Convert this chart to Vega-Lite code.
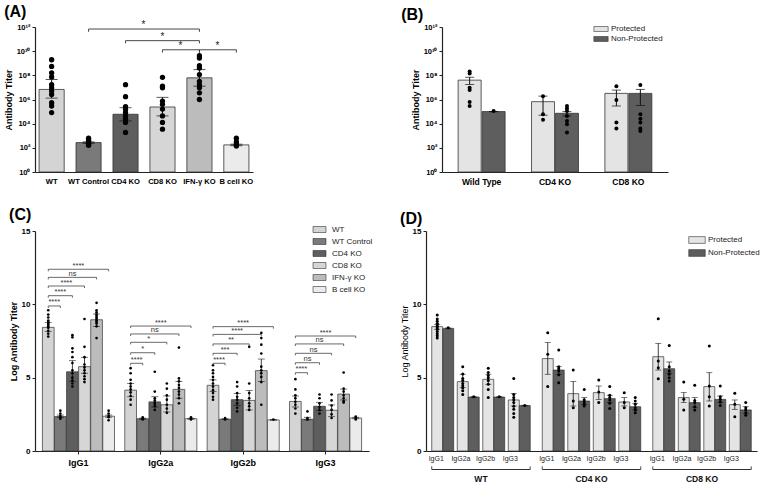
{
"$schema": "https://vega.github.io/schema/vega-lite/v6.json",
"background": "white",
"padding": {"left": 4, "top": 4, "right": 0, "bottom": 0},
"config": {
 "font": "Liberation Sans",
 "view": {"stroke": null},
 "axis": {"grid": false, "labelFont": "Liberation Sans", "titleFont": "Liberation Sans", "labelFontWeight": "bold", "titleFontWeight": "bold", "labelColor": "#000", "titleColor": "#000", "domainColor": "#222", "tickColor": "#222", "domainWidth": 1.2, "tickWidth": 1, "tickSize": 3, "labelFontSize": 8, "titleFontSize": 9, "labelPadding": 2, "titlePadding": 3},
 "legend": {"labelFont": "Liberation Sans", "labelColor": "#222", "labelFontSize": 8},
 "title": {"font": "Liberation Sans", "fontSize": 16, "fontWeight": "bold", "anchor": "start", "color": "#000"},
 "text": {"font": "Liberation Sans"}
},
"datasets": {
 "a": [
  {"genotype": "WT", "titer": 6.8e6, "lo": 1.3e6, "hi": 4.5e7, "points": [1.95e9, 5.5e8, 1.6e8, 7.4e7, 1.7e7, 9.3e6, 5.0e6, 2.6e6, 5.5e5, 2.9e5, 8.3e4]},
  {"genotype": "WT Control", "titer": 270, "lo": 235, "hi": 310, "points": [630, 450, 355, 280, 225, 180, 160]},
  {"genotype": "CD4 KO", "titer": 6.0e4, "lo": 1.7e4, "hi": 2.1e5, "points": [1.7e7, 1.7e6, 2.6e5, 1.55e5, 8.3e4, 4.4e4, 2.3e4, 1.26e4, 1.9e3]},
  {"genotype": "CD8 KO", "titer": 2.4e5, "lo": 4.4e4, "hi": 1.5e6, "points": [6.9e7, 1.26e7, 9.3e6, 7.4e5, 4.0e5, 1.6e5, 4.4e4, 1.26e4, 3.5e3]},
  {"genotype": "IFN-γ KO", "titer": 6.2e7, "lo": 1.26e7, "hi": 3.0e8, "points": [4.2e9, 2.7e9, 6.3e8, 4.0e8, 1.15e8, 3.2e7, 1.7e7, 9.3e6, 3.6e6, 1.0e6]},
  {"genotype": "B cell KO", "titer": 175, "lo": 150, "hi": 200, "points": [630, 316, 200, 140]}
 ],
 "a_brk": [
  {"from": "WT Control", "to": "IFN-γ KO", "y": 6.8e11, "yEnd": 4.0e11, "mid": "CD4 KO", "half": true, "label": "*"},
  {"from": "CD4 KO", "to": "IFN-γ KO", "y": 7.4e10, "yEnd": 4.4e10, "mid": "CD8 KO", "half": false, "label": "*"},
  {"from": "CD8 KO", "to": "IFN-γ KO", "y": 1.3e10, "yEnd": 7.6e9, "mid": "CD8 KO", "half": true, "label": "*"},
  {"from": "IFN-γ KO", "to": "B cell KO", "y": 1.3e10, "yEnd": 7.6e9, "mid": "IFN-γ KO", "half": true, "label": "*"}
 ],
 "b": [
  {"genotype": "Wild Type", "status": "Protected", "titer": 4.0e7, "lo": 1.74e7, "hi": 6.9e7, "points": [2.1e8, 1.4e8, 9.3e6, 6.0e6, 6.2e5, 2.9e5]},
  {"genotype": "Wild Type", "status": "Non-Protected", "titer": 1.0e5, "lo": 1.0e5, "hi": 1.0e5, "points": [1.12e5]},
  {"genotype": "CD4 KO", "status": "Protected", "titer": 6.6e5, "lo": 5.0e4, "hi": 1.9e6, "points": [1.9e6, 6.0e4, 2.1e4]},
  {"genotype": "CD4 KO", "status": "Non-Protected", "titer": 7.2e4, "lo": 4.4e4, "hi": 1.0e5, "points": [2.9e5, 1.8e5, 1.1e5, 4.4e4, 1.7e4, 9.1e3, 1.9e3]},
  {"genotype": "CD8 KO", "status": "Protected", "titer": 3.2e6, "lo": 2.9e5, "hi": 6.0e6, "points": [1.26e7, 9.1e5, 1.26e4, 4.0e3]},
  {"genotype": "CD8 KO", "status": "Non-Protected", "titer": 3.2e6, "lo": 3.2e5, "hi": 6.8e6, "points": [1.55e7, 6.0e4, 2.5e4, 1.26e4, 4.0e3, 2.5e3]}
 ],
 "c": [
  {"isotype": "IgG1", "genotype": "WT", "value": 8.43, "lo": 8.14, "hi": 8.77, "points": [9.6, 9.3, 9.1, 8.9, 8.8, 8.7, 8.6, 8.5, 8.4, 8.2, 8.0, 7.8]},
  {"isotype": "IgG1", "genotype": "WT Control", "value": 2.35, "lo": 2.28, "hi": 2.45, "points": [2.75, 2.55, 2.4, 2.3, 2.2]},
  {"isotype": "IgG1", "genotype": "CD4 KO", "value": 5.4, "lo": 4.73, "hi": 6.16, "points": [7.9, 7.75, 7.0, 6.75, 6.4, 6.0, 5.5, 5.3, 5.0, 4.8, 4.6, 4.4]},
  {"isotype": "IgG1", "genotype": "CD8 KO", "value": 5.75, "lo": 5.3, "hi": 6.39, "points": [9.0, 7.1, 6.4, 5.9, 5.7, 5.5, 5.3, 5.1, 4.9, 4.7]},
  {"isotype": "IgG1", "genotype": "IFN-γ KO", "value": 8.95, "lo": 8.48, "hi": 9.34, "points": [10.1, 9.6, 9.45, 9.3, 9.2, 9.1, 9.0, 8.9, 8.8, 8.7, 8.5, 7.7]},
  {"isotype": "IgG1", "genotype": "B cell KO", "value": 2.37, "lo": 2.3, "hi": 2.45, "points": [2.75, 2.55, 2.4, 2.3, 2.1]},
  {"isotype": "IgG2a", "genotype": "WT", "value": 4.15, "lo": 3.7, "hi": 4.6, "points": [5.65, 5.3, 4.85, 4.6, 4.4, 4.2, 4.0, 3.75, 3.5, 3.15]},
  {"isotype": "IgG2a", "genotype": "WT Control", "value": 2.2, "lo": 2.17, "hi": 2.24, "points": [2.3, 2.2, 2.15]},
  {"isotype": "IgG2a", "genotype": "CD4 KO", "value": 3.35, "lo": 3.0, "hi": 3.7, "points": [5.4, 4.05, 3.6, 3.45, 3.3, 3.2, 3.05, 2.8]},
  {"isotype": "IgG2a", "genotype": "CD8 KO", "value": 3.15, "lo": 2.66, "hi": 3.75, "points": [4.6, 4.25, 3.8, 3.5, 3.15, 2.9, 2.6]},
  {"isotype": "IgG2a", "genotype": "IFN-γ KO", "value": 4.2, "lo": 3.6, "hi": 4.75, "points": [7.05, 4.95, 4.75, 4.5, 4.3, 4.05, 3.85, 3.6, 3.25]},
  {"isotype": "IgG2a", "genotype": "B cell KO", "value": 2.2, "lo": 2.17, "hi": 2.23, "points": [2.3, 2.2, 2.15]},
  {"isotype": "IgG2b", "genotype": "WT", "value": 4.48, "lo": 4.05, "hi": 4.85, "points": [5.85, 5.5, 5.3, 5.05, 4.85, 4.6, 4.4, 4.15, 3.95, 3.7, 3.5]},
  {"isotype": "IgG2b", "genotype": "WT Control", "value": 2.17, "lo": 2.15, "hi": 2.2, "points": [2.25, 2.15]},
  {"isotype": "IgG2b", "genotype": "CD4 KO", "value": 3.5, "lo": 3.1, "hi": 3.92, "points": [4.7, 4.4, 3.95, 3.7, 3.5, 3.25, 2.95, 2.7]},
  {"isotype": "IgG2b", "genotype": "CD8 KO", "value": 3.45, "lo": 2.8, "hi": 4.12, "points": [7.1, 4.6, 3.95, 3.6, 3.25, 3.05, 2.8]},
  {"isotype": "IgG2b", "genotype": "IFN-γ KO", "value": 5.48, "lo": 4.73, "hi": 6.27, "points": [8.05, 7.7, 7.25, 6.65, 5.75, 5.5, 5.3, 5.05, 4.7, 3.15]},
  {"isotype": "IgG2b", "genotype": "B cell KO", "value": 2.12, "lo": 2.1, "hi": 2.14, "points": [2.15]},
  {"isotype": "IgG3", "genotype": "WT", "value": 3.38, "lo": 3.0, "hi": 3.75, "points": [4.9, 4.2, 3.8, 3.6, 3.35, 3.15, 2.9, 2.55]},
  {"isotype": "IgG3", "genotype": "WT Control", "value": 2.17, "lo": 2.12, "hi": 2.3, "points": [2.7, 2.25, 2.15]},
  {"isotype": "IgG3", "genotype": "CD4 KO", "value": 3.05, "lo": 2.75, "hi": 3.32, "points": [3.85, 3.6, 3.25, 3.0, 2.8, 2.55]},
  {"isotype": "IgG3", "genotype": "CD8 KO", "value": 2.78, "lo": 2.34, "hi": 3.14, "points": [3.85, 3.45, 3.1, 2.8, 2.5, 2.25]},
  {"isotype": "IgG3", "genotype": "IFN-γ KO", "value": 3.88, "lo": 3.48, "hi": 4.22, "points": [5.35, 4.25, 4.05, 3.8, 3.6, 3.4, 3.3]},
  {"isotype": "IgG3", "genotype": "B cell KO", "value": 2.25, "lo": 2.2, "hi": 2.3, "points": [2.35, 2.25, 2.15]}
 ],
 "c_brk": [
  {"isotype": "IgG1", "from": "WT", "to": "WT Control", "y": 9.89, "yEnd": 9.75, "label": "****", "mid": "WT", "half": true},
  {"isotype": "IgG1", "from": "WT", "to": "CD4 KO", "y": 10.59, "yEnd": 10.45, "label": "****", "mid": "WT Control", "half": false},
  {"isotype": "IgG1", "from": "WT", "to": "CD8 KO", "y": 11.25, "yEnd": 11.11, "label": "****", "mid": "WT Control", "half": true},
  {"isotype": "IgG1", "from": "WT", "to": "IFN-γ KO", "y": 11.84, "yEnd": 11.7, "label": "ns", "mid": "CD4 KO", "half": false},
  {"isotype": "IgG1", "from": "WT", "to": "B cell KO", "y": 12.39, "yEnd": 12.25, "label": "****", "mid": "CD4 KO", "half": true},
  {"isotype": "IgG2a", "from": "WT", "to": "WT Control", "y": 5.98, "yEnd": 5.84, "label": "****", "mid": "WT", "half": true},
  {"isotype": "IgG2a", "from": "WT", "to": "CD4 KO", "y": 6.7, "yEnd": 6.56, "label": "*", "mid": "WT Control", "half": false},
  {"isotype": "IgG2a", "from": "WT", "to": "CD8 KO", "y": 7.41, "yEnd": 7.27, "label": "*", "mid": "WT Control", "half": true},
  {"isotype": "IgG2a", "from": "WT", "to": "IFN-γ KO", "y": 7.98, "yEnd": 7.84, "label": "ns", "mid": "CD4 KO", "half": false},
  {"isotype": "IgG2a", "from": "WT", "to": "B cell KO", "y": 8.52, "yEnd": 8.38, "label": "****", "mid": "CD4 KO", "half": true},
  {"isotype": "IgG2b", "from": "WT", "to": "WT Control", "y": 5.98, "yEnd": 5.84, "label": "****", "mid": "WT", "half": true},
  {"isotype": "IgG2b", "from": "WT", "to": "CD4 KO", "y": 6.66, "yEnd": 6.52, "label": "***", "mid": "WT Control", "half": false},
  {"isotype": "IgG2b", "from": "WT", "to": "CD8 KO", "y": 7.3, "yEnd": 7.16, "label": "**", "mid": "WT Control", "half": true},
  {"isotype": "IgG2b", "from": "WT", "to": "IFN-γ KO", "y": 7.95, "yEnd": 7.81, "label": "****", "mid": "CD4 KO", "half": false},
  {"isotype": "IgG2b", "from": "WT", "to": "B cell KO", "y": 8.48, "yEnd": 8.34, "label": "****", "mid": "CD4 KO", "half": true},
  {"isotype": "IgG3", "from": "WT", "to": "WT Control", "y": 5.34, "yEnd": 5.2, "label": "****", "mid": "WT", "half": true},
  {"isotype": "IgG3", "from": "WT", "to": "CD4 KO", "y": 6.02, "yEnd": 5.88, "label": "ns", "mid": "WT Control", "half": false},
  {"isotype": "IgG3", "from": "WT", "to": "CD8 KO", "y": 6.66, "yEnd": 6.52, "label": "ns", "mid": "WT Control", "half": true},
  {"isotype": "IgG3", "from": "WT", "to": "IFN-γ KO", "y": 7.3, "yEnd": 7.16, "label": "ns", "mid": "CD4 KO", "half": false},
  {"isotype": "IgG3", "from": "WT", "to": "B cell KO", "y": 7.84, "yEnd": 7.7, "label": "****", "mid": "CD4 KO", "half": true}
 ],
 "d": [
  {"genotype": "WT", "isotype": "IgG1", "status": "Protected", "value": 8.48, "lo": 8.3, "hi": 8.64, "points": [9.27, 9.0, 8.85, 8.7, 8.6, 8.5, 8.4, 8.3, 8.15, 8.0, 7.85, 7.7]},
  {"genotype": "WT", "isotype": "IgG1", "status": "Non-Protected", "value": 8.36, "lo": 8.33, "hi": 8.39, "points": [8.4]},
  {"genotype": "WT", "isotype": "IgG2a", "status": "Protected", "value": 4.73, "lo": 4.32, "hi": 5.23, "points": [5.75, 5.25, 4.95, 4.8, 4.6, 4.45, 4.3, 4.1, 3.85]},
  {"genotype": "WT", "isotype": "IgG2a", "status": "Non-Protected", "value": 3.68, "lo": 3.66, "hi": 3.7, "points": [3.7]},
  {"genotype": "WT", "isotype": "IgG2b", "status": "Protected", "value": 4.89, "lo": 4.55, "hi": 5.23, "points": [5.65, 5.35, 5.15, 5.0, 4.8, 4.55, 4.2, 3.65]},
  {"genotype": "WT", "isotype": "IgG2b", "status": "Non-Protected", "value": 3.68, "lo": 3.66, "hi": 3.7, "points": [3.7]},
  {"genotype": "WT", "isotype": "IgG3", "status": "Protected", "value": 3.48, "lo": 3.07, "hi": 3.91, "points": [4.95, 3.85, 3.65, 3.5, 3.3, 3.05, 2.85, 2.55, 2.3]},
  {"genotype": "WT", "isotype": "IgG3", "status": "Non-Protected", "value": 3.1, "lo": 3.08, "hi": 3.12, "points": [3.1]},
  {"genotype": "CD4 KO", "isotype": "IgG1", "status": "Protected", "value": 6.3, "lo": 5.23, "hi": 7.39, "points": [8.07, 6.59, 4.39]},
  {"genotype": "CD4 KO", "isotype": "IgG1", "status": "Non-Protected", "value": 5.52, "lo": 5.23, "hi": 5.75, "points": [6.88, 5.75, 5.6, 5.45, 5.2, 4.65]},
  {"genotype": "CD4 KO", "isotype": "IgG2a", "status": "Protected", "value": 3.91, "lo": 3.07, "hi": 4.73, "points": [5.52, 3.41, 2.95]},
  {"genotype": "CD4 KO", "isotype": "IgG2a", "status": "Non-Protected", "value": 3.41, "lo": 3.18, "hi": 3.64, "points": [4.2, 3.5, 3.35, 3.2, 3.07]},
  {"genotype": "CD4 KO", "isotype": "IgG2b", "status": "Protected", "value": 3.98, "lo": 3.52, "hi": 4.43, "points": [4.84, 4.02, 3.3]},
  {"genotype": "CD4 KO", "isotype": "IgG2b", "status": "Non-Protected", "value": 3.57, "lo": 3.3, "hi": 3.8, "points": [4.39, 3.8, 3.64, 3.48, 3.25, 2.89]},
  {"genotype": "CD4 KO", "isotype": "IgG3", "status": "Protected", "value": 3.34, "lo": 3.07, "hi": 3.64, "points": [3.98, 3.3, 2.95]},
  {"genotype": "CD4 KO", "isotype": "IgG3", "status": "Non-Protected", "value": 3.02, "lo": 2.8, "hi": 3.25, "points": [3.64, 3.41, 3.18, 2.95, 2.8, 2.61]},
  {"genotype": "CD8 KO", "isotype": "IgG1", "status": "Protected", "value": 6.43, "lo": 5.52, "hi": 7.34, "points": [9.02, 6.14, 5.68, 4.93]},
  {"genotype": "CD8 KO", "isotype": "IgG1", "status": "Non-Protected", "value": 5.61, "lo": 5.3, "hi": 6.07, "points": [7.2, 5.75, 5.45, 5.23, 5.0, 4.77]},
  {"genotype": "CD8 KO", "isotype": "IgG2a", "status": "Protected", "value": 3.64, "lo": 3.3, "hi": 3.98, "points": [4.7, 3.52, 2.8]},
  {"genotype": "CD8 KO", "isotype": "IgG2a", "status": "Non-Protected", "value": 3.3, "lo": 2.95, "hi": 3.64, "points": [4.48, 3.45, 3.3, 3.02, 2.8]},
  {"genotype": "CD8 KO", "isotype": "IgG2b", "status": "Protected", "value": 4.39, "lo": 3.41, "hi": 5.34, "points": [7.16, 4.43, 3.7, 3.07]},
  {"genotype": "CD8 KO", "isotype": "IgG2b", "status": "Non-Protected", "value": 3.52, "lo": 3.3, "hi": 3.75, "points": [4.43, 3.7, 3.52, 3.34, 3.11]},
  {"genotype": "CD8 KO", "isotype": "IgG3", "status": "Protected", "value": 3.16, "lo": 2.84, "hi": 3.48, "points": [3.93, 3.18, 2.34]},
  {"genotype": "CD8 KO", "isotype": "IgG3", "status": "Non-Protected", "value": 2.8, "lo": 2.57, "hi": 3.02, "points": [3.3, 2.95, 2.8, 2.61, 2.43]}
 ]
},
"spacing": 204,
"bounds": "flush",
"resolve": {"scale": {"color": "independent", "xOffset": "independent"}, "legend": {"color": "independent"}},
"vconcat": [
 {
  "spacing": 189,
  "bounds": "flush",
  "resolve": {"scale": {"color": "independent", "xOffset": "independent"}, "legend": {"color": "independent"}},
  "hconcat": [
   {
    "width": 218, "height": 145,
    "title": {"text": "(A)", "offset": 0},
    "data": {"name": "a"},
    "encoding": {
     "x": {"field": "genotype", "type": "nominal", "title": null, "scale": {"domain": ["WT", "WT Control", "CD4 KO", "CD8 KO", "IFN-γ KO", "B cell KO"], "paddingInner": 0.32, "paddingOuter": 0.11}, "axis": {"labelAngle": 0, "labelFontSize": 7.6, "ticks": false, "labelPadding": 5, "labelOverlap": false, "labelLimit": 0}}
    },
    "layer": [
     {"mark": {"type": "bar", "stroke": "#333", "strokeWidth": 0.8},
      "encoding": {
       "y": {"field": "titer", "type": "quantitative", "title": "Antibody Titer", "scale": {"type": "log", "domain": [1, 1e12], "nice": false}, "axis": {"title": "Antibody Titer", "values": [1, 100, 10000, 1000000, 100000000, 10000000000, 1000000000000], "labelExpr": "'10' + ['⁰','¹','²','³','⁴','⁵','⁶','⁷','⁸','⁹','¹⁰','¹¹','¹²'][round(log(datum.value)/LN10)]", "labelFontSize": 7.5}},
       "y2": {"datum": 1},
       "color": {"field": "genotype", "type": "nominal", "scale": {"domain": ["WT", "WT Control", "CD4 KO", "CD8 KO", "IFN-γ KO", "B cell KO"], "range": ["#d4d4d4", "#7a7a7a", "#5e5e5e", "#d6d6d6", "#bcbcbc", "#ebebeb"]}, "legend": null}
      }},
     {"mark": {"type": "rule", "color": "#111", "strokeWidth": 1},
      "encoding": {"y": {"field": "lo", "type": "quantitative", "title": "Antibody Titer"}, "y2": {"field": "hi"}}},
     {"mark": {"type": "tick", "color": "#111", "size": 12, "thickness": 1},
      "encoding": {"y": {"field": "lo", "type": "quantitative", "title": "Antibody Titer"}}},
     {"mark": {"type": "tick", "color": "#111", "size": 12, "thickness": 1},
      "encoding": {"y": {"field": "hi", "type": "quantitative", "title": "Antibody Titer"}}},
     {"transform": [{"flatten": ["points"], "as": ["point"]}],
      "mark": {"type": "circle", "size": 28, "color": "#000", "opacity": 1},
      "encoding": {"y": {"field": "point", "type": "quantitative", "title": "Antibody Titer"}}},
     {"data": {"name": "a_brk"},
      "mark": {"type": "rule", "color": "#333", "strokeWidth": 0.9},
      "encoding": {"x": {"field": "from", "type": "nominal", "title": null}, "x2": {"field": "to"}, "y": {"field": "y", "type": "quantitative", "title": "Antibody Titer"}}},
     {"data": {"name": "a_brk"},
      "mark": {"type": "rule", "color": "#333", "strokeWidth": 0.9},
      "encoding": {"x": {"field": "from", "type": "nominal", "title": null}, "y": {"field": "y", "type": "quantitative", "title": "Antibody Titer"}, "y2": {"field": "yEnd"}}},
     {"data": {"name": "a_brk"},
      "mark": {"type": "rule", "color": "#333", "strokeWidth": 0.9},
      "encoding": {"x": {"field": "to", "type": "nominal", "title": null}, "y": {"field": "y", "type": "quantitative", "title": "Antibody Titer"}, "y2": {"field": "yEnd"}}},
     {"data": {"name": "a_brk"},
      "transform": [{"filter": "datum.half"}],
      "mark": {"type": "text", "dx": 18, "dy": -1, "baseline": "alphabetic", "fontSize": 10, "color": "#222"},
      "encoding": {"x": {"field": "mid", "type": "nominal", "title": null}, "y": {"field": "y", "type": "quantitative", "title": "Antibody Titer"}, "text": {"field": "label"}}},
     {"data": {"name": "a_brk"},
      "transform": [{"filter": "!datum.half"}],
      "mark": {"type": "text", "dy": -1, "baseline": "alphabetic", "fontSize": 10, "color": "#222"},
      "encoding": {"x": {"field": "mid", "type": "nominal", "title": null}, "y": {"field": "y", "type": "quantitative", "title": "Antibody Titer"}, "text": {"field": "label"}}}
    ]
   },
   {
    "width": 226, "height": 145,
    "title": {"text": "(B)", "offset": 0, "dx": -10},
    "data": {"name": "b"},
    "encoding": {
     "x": {"field": "genotype", "type": "nominal", "title": null, "scale": {"domain": ["Wild Type", "CD4 KO", "CD8 KO"], "paddingInner": 0.36, "paddingOuter": 0.22}, "axis": {"labelAngle": 0, "labelFontSize": 8.5, "ticks": false, "labelPadding": 5}},
     "xOffset": {"field": "status", "type": "nominal", "scale": {"type": "band", "domain": ["Protected", "Non-Protected"], "paddingInner": 0.04, "paddingOuter": 0, "align": 0.5}}
    },
    "layer": [
     {"mark": {"type": "bar", "stroke": "#333", "strokeWidth": 0.8},
      "encoding": {
       "y": {"field": "titer", "type": "quantitative", "title": "Antibody Titer", "scale": {"type": "log", "domain": [1, 1e12], "nice": false}, "axis": {"title": "Antibody Titer", "values": [1, 100, 10000, 1000000, 100000000, 10000000000, 1000000000000], "labelExpr": "'10' + ['⁰','¹','²','³','⁴','⁵','⁶','⁷','⁸','⁹','¹⁰','¹¹','¹²'][round(log(datum.value)/LN10)]", "labelFontSize": 7.5}},
       "y2": {"datum": 1},
       "color": {"field": "status", "type": "nominal", "scale": {"domain": ["Protected", "Non-Protected"], "range": ["#e4e4e4", "#5e5e5e"]}, "legend": {"title": null, "orient": "none", "legendX": 153, "legendY": -4, "symbolType": "M-1.3,-0.45H1.3V0.45H-1.3Z", "symbolSize": 121, "symbolStrokeColor": "#333", "symbolStrokeWidth": 0.6, "rowPadding": 0, "labelOffset": 4, "labelFontSize": 8, "padding": 0}}
      }},
     {"mark": {"type": "rule", "color": "#111", "strokeWidth": 1},
      "encoding": {"y": {"field": "lo", "type": "quantitative", "title": "Antibody Titer"}, "y2": {"field": "hi"}}},
     {"mark": {"type": "tick", "color": "#111", "size": 9, "thickness": 1},
      "encoding": {"y": {"field": "lo", "type": "quantitative", "title": "Antibody Titer"}}},
     {"mark": {"type": "tick", "color": "#111", "size": 9, "thickness": 1},
      "encoding": {"y": {"field": "hi", "type": "quantitative", "title": "Antibody Titer"}}},
     {"transform": [{"flatten": ["points"], "as": ["point"]}],
      "mark": {"type": "circle", "size": 16, "color": "#000", "opacity": 1},
      "encoding": {"y": {"field": "point", "type": "quantitative", "title": "Antibody Titer"}}}
    ]
   }
  ]
 },
 {
  "spacing": 57,
  "bounds": "flush",
  "resolve": {"scale": {"color": "independent", "xOffset": "independent"}, "legend": {"color": "independent"}},
  "hconcat": [
   {
    "width": 334, "height": 220,
    "title": {"text": "(C)", "offset": 0},
    "data": {"name": "c"},
    "encoding": {
     "x": {"field": "isotype", "type": "nominal", "title": null, "scale": {"domain": ["IgG1", "IgG2a", "IgG2b", "IgG3"], "paddingInner": 0.125, "paddingOuter": 0.09}, "axis": {"labelAngle": 0, "labelFontSize": 9, "tickSize": 3, "labelPadding": 4}},
     "xOffset": {"field": "genotype", "type": "nominal", "scale": {"type": "band", "domain": ["WT", "WT Control", "CD4 KO", "CD8 KO", "IFN-γ KO", "B cell KO"], "paddingInner": 0.03, "paddingOuter": 0, "align": 0.5}}
    },
    "layer": [
     {"mark": {"type": "bar", "stroke": "#333", "strokeWidth": 0.7},
      "encoding": {
       "y": {"field": "value", "type": "quantitative", "title": "Log Antibody Titer", "scale": {"domain": [0, 15], "nice": false}, "axis": {"title": "Log Antibody Titer", "values": [0, 5, 10, 15], "labelFontSize": 8}},
       "color": {"field": "genotype", "type": "nominal", "scale": {"domain": ["WT", "WT Control", "CD4 KO", "CD8 KO", "IFN-γ KO", "B cell KO"], "range": ["#d4d4d4", "#7a7a7a", "#5e5e5e", "#d6d6d6", "#bcbcbc", "#ebebeb"]}, "legend": {"title": null, "orient": "none", "legendX": 278, "legendY": -8, "symbolType": "M-1.08,-0.5H1.08V0.5H-1.08Z", "symbolSize": 144, "symbolStrokeColor": "#333", "symbolStrokeWidth": 0.6, "rowPadding": 1, "labelOffset": 6, "labelFontSize": 8, "padding": 0}}
      }},
     {"mark": {"type": "rule", "color": "#111", "strokeWidth": 0.8},
      "encoding": {"y": {"field": "lo", "type": "quantitative", "title": "Log Antibody Titer"}, "y2": {"field": "hi"}}},
     {"mark": {"type": "tick", "color": "#111", "size": 7, "thickness": 0.8},
      "encoding": {"y": {"field": "lo", "type": "quantitative", "title": "Log Antibody Titer"}}},
     {"mark": {"type": "tick", "color": "#111", "size": 7, "thickness": 0.8},
      "encoding": {"y": {"field": "hi", "type": "quantitative", "title": "Log Antibody Titer"}}},
     {"transform": [{"flatten": ["points"], "as": ["point"]}],
      "mark": {"type": "circle", "size": 7, "color": "#000", "opacity": 1},
      "encoding": {"y": {"field": "point", "type": "quantitative", "title": "Log Antibody Titer"}}},
     {"data": {"name": "c_brk"},
      "transform": [{"fold": ["from", "to"], "as": ["end", "genotype"]}],
      "layer": [
       {"mark": {"type": "line", "color": "#444", "strokeWidth": 0.8},
        "encoding": {"y": {"field": "y", "type": "quantitative", "title": "Log Antibody Titer"}, "detail": [{"field": "isotype"}, {"field": "to"}]}},
       {"mark": {"type": "rule", "color": "#444", "strokeWidth": 0.8},
        "encoding": {"y": {"field": "y", "type": "quantitative", "title": "Log Antibody Titer"}, "y2": {"field": "yEnd"}}}
      ]},
     {"data": {"name": "c_brk"},
      "transform": [{"filter": "datum.half"}],
      "mark": {"type": "text", "dx": 6, "dy": -1.5, "baseline": "alphabetic", "fontSize": 7.5, "color": "#333"},
      "encoding": {"xOffset": {"field": "mid", "type": "nominal"}, "y": {"field": "y", "type": "quantitative", "title": "Log Antibody Titer"}, "text": {"field": "label"}}},
     {"data": {"name": "c_brk"},
      "transform": [{"filter": "!datum.half"}],
      "mark": {"type": "text", "dy": -1.5, "baseline": "alphabetic", "fontSize": 7.5, "color": "#333"},
      "encoding": {"xOffset": {"field": "mid", "type": "nominal"}, "y": {"field": "y", "type": "quantitative", "title": "Log Antibody Titer"}, "text": {"field": "label"}}}
    ]
   },
   {
    "width": 331, "height": 220,
    "title": {"text": "(D)", "offset": 0},
    "data": {"name": "d"},
    "encoding": {
     "x": {"field": "genotype", "type": "nominal", "title": null, "scale": {"domain": ["WT", "CD4 KO", "CD8 KO"], "paddingInner": 0.109, "paddingOuter": 0.052}, "axis": {"labels": false, "ticks": false, "title": null}}
    },
    "layer": [
     {"transform": [{"filter": "datum.status === 'Protected'"}],
      "encoding": {"xOffset": {"field": "isotype", "type": "nominal", "scale": {"domain": ["IgG1", "IgG2a", "IgG2b", "IgG3"], "paddingInner": 0.57, "paddingOuter": 0.215, "align": 0}}},
      "layer": [
       {"mark": {"type": "bar", "stroke": "#333", "strokeWidth": 0.7},
        "encoding": {
         "y": {"field": "value", "type": "quantitative", "title": "Log Antibody Titer", "scale": {"domain": [0, 15], "nice": false}, "axis": {"title": "Log Antibody Titer", "values": [0, 5, 10, 15], "labelFontSize": 8, "titleFontWeight": "normal"}},
         "color": {"field": "status", "type": "nominal", "scale": {"domain": ["Protected", "Non-Protected"], "range": ["#e4e4e4", "#5e5e5e"]}, "legend": {"title": null, "orient": "none", "legendX": 263, "legendY": 1, "symbolType": "M-1.1,-0.45H1.1V0.45H-1.1Z", "symbolSize": 225, "symbolStrokeColor": "#333", "symbolStrokeWidth": 0.6, "rowPadding": 0, "labelOffset": 3, "labelFontSize": 8, "padding": 0}}
        }},
       {"mark": {"type": "rule", "color": "#111", "strokeWidth": 0.8},
        "encoding": {"y": {"field": "lo", "type": "quantitative", "title": "Log Antibody Titer"}, "y2": {"field": "hi"}}},
       {"mark": {"type": "tick", "color": "#111", "size": 6, "thickness": 0.8},
        "encoding": {"y": {"field": "lo", "type": "quantitative", "title": "Log Antibody Titer"}}},
       {"mark": {"type": "tick", "color": "#111", "size": 6, "thickness": 0.8},
        "encoding": {"y": {"field": "hi", "type": "quantitative", "title": "Log Antibody Titer"}}},
       {"transform": [{"flatten": ["points"], "as": ["point"]}],
        "mark": {"type": "circle", "size": 9, "color": "#000", "opacity": 1},
        "encoding": {"y": {"field": "point", "type": "quantitative", "title": "Log Antibody Titer"}}}
      ]},
     {"transform": [{"filter": "datum.status === 'Non-Protected'"}],
      "encoding": {"xOffset": {"field": "isotype", "type": "nominal", "scale": {"domain": ["IgG1", "IgG2a", "IgG2b", "IgG3"], "paddingInner": 0.57, "paddingOuter": 0.215, "align": 1}}},
      "layer": [
       {"mark": {"type": "bar", "stroke": "#333", "strokeWidth": 0.7},
        "encoding": {
         "y": {"field": "value", "type": "quantitative", "title": "Log Antibody Titer"},
         "color": {"field": "status", "type": "nominal"}
        }},
       {"mark": {"type": "rule", "color": "#111", "strokeWidth": 0.8},
        "encoding": {"y": {"field": "lo", "type": "quantitative", "title": "Log Antibody Titer"}, "y2": {"field": "hi"}}},
       {"mark": {"type": "tick", "color": "#111", "size": 6, "thickness": 0.8},
        "encoding": {"y": {"field": "lo", "type": "quantitative", "title": "Log Antibody Titer"}}},
       {"mark": {"type": "tick", "color": "#111", "size": 6, "thickness": 0.8},
        "encoding": {"y": {"field": "hi", "type": "quantitative", "title": "Log Antibody Titer"}}},
       {"transform": [{"flatten": ["points"], "as": ["point"]}],
        "mark": {"type": "circle", "size": 9, "color": "#000", "opacity": 1},
        "encoding": {"y": {"field": "point", "type": "quantitative", "title": "Log Antibody Titer"}}}
      ]},
     {"transform": [{"filter": "datum.status === 'Protected'"}],
      "mark": {"type": "text", "baseline": "middle", "align": "center", "fontSize": 7, "color": "#222"},
      "encoding": {"xOffset": {"field": "isotype", "type": "nominal", "scale": {"type": "point", "domain": ["IgG1", "IgG2a", "IgG2b", "IgG3"], "padding": 0.494, "align": 0.184}}, "y": {"datum": -0.57}, "text": {"field": "isotype"}}},
     {"transform": [{"filter": "datum.status === 'Protected' && datum.isotype === 'IgG1'"}],
      "layer": [
       {"mark": {"type": "bar", "color": "#333"},
        "encoding": {"y": {"datum": -1.22}, "y2": {"datum": -1.3}}},
       {"mark": {"type": "rule", "color": "#333", "strokeWidth": 0.9},
        "encoding": {"x": {"field": "genotype", "type": "nominal", "bandPosition": 0, "title": null}, "y": {"datum": -1.26}, "y2": {"datum": -1.05}}},
       {"mark": {"type": "rule", "color": "#333", "strokeWidth": 0.9},
        "encoding": {"x": {"field": "genotype", "type": "nominal", "bandPosition": 1, "title": null}, "y": {"datum": -1.26}, "y2": {"datum": -1.05}}},
       {"mark": {"type": "text", "baseline": "middle", "fontSize": 8.5, "fontWeight": "bold", "color": "#111"},
        "encoding": {"y": {"datum": -1.9}, "text": {"field": "genotype"}}}
      ]}
    ],
    "resolve": {"scale": {"xOffset": "independent"}}
   }
  ]
 }
]
}
